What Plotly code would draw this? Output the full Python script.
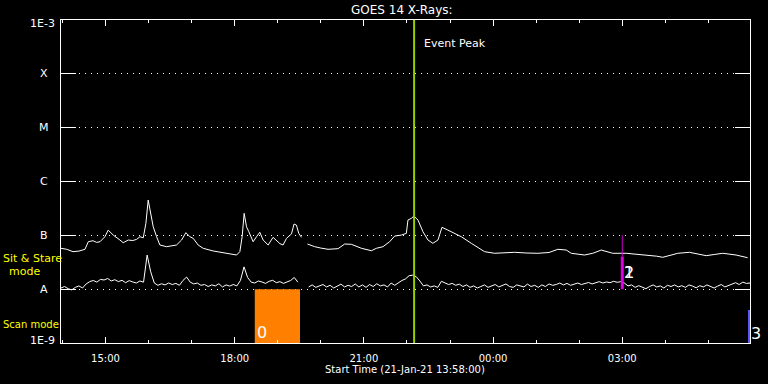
import numpy as np
import pandas as pd
import plotly.graph_objects as go

START = pd.Timestamp("2021-01-21 13:58:00")
END = START + pd.Timedelta(hours=16)

# ---- data ----
# long channel (1-8 A): minutes since start, flux in units of 1e-7 W/m^2
long_min = [0, 8, 16.7, 25, 33.4, 38, 44.5, 49.7, 54.3, 61.2, 65.8, 72.8, 82.1, 86.7, 93.7,
            100, 105.4, 110, 114.6, 118.3, 121.5, 123.9, 128.5, 133.2, 137.8, 147.1, 155, 161,
            168, 174, 179.6, 184.2, 191.1, 198.1, 212, 222, 230.7, 244.6, 249.2, 252.4, 255.2,
            258.5, 261.7, 267.7, 272.4, 277, 281.6, 288.6, 295.5, 300.2, 305, 309.4, 314.2,
            321.1, 324.7, 328, 331.3, 335, 339, 343.4, 353.6, 362, 372.1, 386, 395.3, 404.6,
            418.6, 432.5, 439.4, 448.6, 457.9, 464.9, 474.2, 481.2, 483.4, 488.2, 491.8, 497.4,
            504.3, 511.3, 518.2, 525.2, 530.8, 539.1, 557.8, 571.7, 590.2, 604.1, 618, 632,
            648, 664.4, 680, 692.3, 704, 710.9, 729.4, 741, 752.7, 768.8, 787.5, 800, 815.3,
            830, 838.5, 859.4, 875.6, 888, 898.9, 910, 922, 940.6, 956.7]
long_e7 = [0.574, 0.55, 0.497, 0.51, 0.55, 0.761, 0.794, 0.74, 0.761, 0.942, 1.25, 1.01, 0.818,
           0.729, 0.818, 0.80, 0.843, 0.942, 0.90, 1.67, 4.52, 2.94, 1.44, 0.942, 0.661, 0.615,
           0.63, 0.661, 0.818, 1.12, 0.942, 0.88, 0.661, 0.574, 0.512, 0.49, 0.464, 0.431,
           0.497, 0.942, 2.56, 1.44, 1.17, 0.761, 0.942, 1.14, 0.818, 0.661, 0.918, 0.784, 0.70,
           0.661, 0.88, 1.06, 1.62, 1.55, 1.09, 0.918, None, 0.69, 0.615, 0.58, 0.55, 0.565,
           0.69, 0.681, 0.574, 0.518, 0.574, 0.615, 0.761, 0.97, 1.01, 1.09, 1.92, 2.07, 2.28,
           1.92, 1.17, 0.818, 0.711, 0.818, 1.41, 1.25, 0.942, 0.711, 0.497, 0.464, 0.47, 0.484,
           0.47, 0.464, 0.48, 0.55, 0.533, 0.464, 0.431, 0.464, 0.533, 0.464, 0.464, 0.45, 0.431,
           0.41, 0.391, 0.464, 0.484, 0.45, 0.419, 0.44, 0.464, 0.431, 0.384]

# short channel (0.5-4 A): 5-minute samples since start, flux in units of 1e-8 W/m^2
short_min = list(range(0, 961, 5))
short_e8 = [1.05, 1.12, 1.02, 0.97, 1.08, 1.15, 1.05, 1.25, 1.38, 1.45,
            1.35, 1.52, 1.48, 1.58, 1.42, 1.5, 1.38, 1.46, 1.32, 1.44,
            1.36, 1.3, 1.42, 1.35, 4.3, 2.1, 1.3, 1.18, 1.26, 1.2,
            1.3, 1.22, 1.28, 1.18, 1.45, 1.68, 1.35, 1.25, 1.3, 1.18,
            1.22, 1.12, 1.2, 1.15, 1.26, 1.1, 1.2, 1.14, 1.22, 1.15,
            1.45, 2.6, 1.65, 1.35, 1.3, 1.42, 1.36, 1.28, 1.4, 1.46,
            1.32, 1.38, 1.28, 1.36, 1.45, 1.65, 1.35, None, None, 1.1,
            1.2, 1.08, 1.16, 1.22, 1.1, 1.18, 1.05, 1.15, 1.24, 1.1,
            1.18, 1.12, 1.25, 1.1, 1.2, 1.08, 1.22, 1.12, 1.26, 1.15,
            1.2, 1.1, 1.3, 1.18, 1.32, 1.45, 1.55, 1.78, 1.82, 1.7,
            1.42, 1.15, 1.2, 1.1, 1.15, 1.08, 1.4, 1.3, 1.22, 1.28,
            1.18, 1.24, 1.12, 1.2, 1.08, 1.15, 1.05, 1.12, 1.2, 1.08,
            1.14, 1.22, 1.1, 1.18, 1.25, 1.12, 1.08, 1.2, 1.15, 1.1,
            1.24, 1.12, 1.18, 1.08, 1.2, 1.12, 1.25, 1.18, 1.22, 1.3,
            1.2, 1.28, 1.18, 1.24, 1.3, 1.22, 1.28, 1.33, 1.25, 1.32,
            1.38, 1.3, 1.36, 1.32, 1.4, 1.34, 1.38, 1.3, 1.15, 1.2,
            1.08, 1.16, 1.1, 1.02, 1.12, 1.2, 1.1, 1.15, 1.05, 1.18,
            1.12, 1.2, 1.1, 1.16, 1.08, 1.2, 1.14, 1.06, 1.16, 1.1,
            1.2, 1.12, 1.05, 1.14, 1.22, 1.1, 1.18, 1.25, 1.32, 1.22,
            1.35, 1.28, 1.3]

class_levels = [1e-9, 1e-8, 1e-7, 1e-6, 1e-5, 1e-4, 1e-3]
class_labels = ["1E-9", "A", "B", "C", "M", "X", "1E-3"]

event_peak = "2021-01-21 22:10:00"
scan_start, scan_end = "2021-01-21 18:28:00", "2021-01-21 19:31:00"
mark12_time = "2021-01-22 03:00:00"
mark12_thin = [1e-7, 4.0e-8]
mark12_thick = [4.0e-8, 1e-8]
mark3_time = "2021-01-22 05:57:00"
mark3_top = 4.1e-9

# ---- build ----
def to_time(mins):
    return [START + pd.Timedelta(minutes=m) for m in mins]

long_flux = [v * 1e-7 if v is not None else None for v in long_e7]
short_flux = [v * 1e-8 if v is not None else None for v in short_e8]

fig = go.Figure()
fig.add_trace(go.Scatter(x=[scan_start, scan_end, scan_end, scan_start, scan_start],
                         y=[1e-9, 1e-9, 1e-8, 1e-8, 1e-9], fill="toself",
                         fillcolor="#ff8000", line=dict(width=0), mode="lines",
                         hoverinfo="skip"))
fig.add_trace(go.Scatter(x=to_time(long_min), y=long_flux, mode="lines",
                         line=dict(color="white", width=1), connectgaps=False))
fig.add_trace(go.Scatter(x=to_time(short_min), y=short_flux, mode="lines",
                         line=dict(color="white", width=1), connectgaps=False))
fig.add_trace(go.Scatter(x=[event_peak, event_peak], y=[1e-9, 1e-3], mode="lines",
                         line=dict(color="#9acd00", width=2)))
fig.add_trace(go.Scatter(x=[mark12_time] * 2, y=mark12_thin, mode="lines",
                         line=dict(color="#d000d0", width=1)))
fig.add_trace(go.Scatter(x=[mark12_time] * 2, y=mark12_thick, mode="lines",
                         line=dict(color="#e000e0", width=3)))
fig.add_trace(go.Scatter(x=[mark3_time] * 2, y=[1e-9, mark3_top], mode="lines",
                         line=dict(color="#5a5aff", width=2.5)))

W, H = 768, 384
L, R, T, B = 61, 18, 20, 41
pw, ph = W - L - R, H - T - B

def px(x):
    return (x - L) / pw

def py(y):
    return (H - B - y) / ph

font = "DejaVu Sans"

def text(x, y, s, color="white", size=11, xanchor="center", xref="paper", yref="paper",
         yshift=0, xshift=0):
    return dict(x=x, y=y, xref=xref, yref=yref, text=s, xanchor=xanchor, yanchor="middle",
                showarrow=False, xshift=xshift, yshift=yshift,
                font=dict(color=color, size=size, family=font))

ann = []
for lev, lab in zip(class_levels, class_labels):
    if lab.startswith("1E"):
        ann.append(text(px(57), np.log10(lev), lab, xanchor="right", yref="y",
                        yshift=(-3 if lev == 1e-3 else 3)))
    else:
        ann.append(text(px(44), np.log10(lev), lab, yref="y"))
ann += [
    text(px(402), py(10), "GOES 14 X-Rays:", size=12),
    text(px(405), py(369), "Start Time (21-Jan-21 13:58:00)", size=10),
    text(event_peak, py(43), "Event Peak", xanchor="left", xref="x", xshift=8),
    text(scan_start, py(332), "0", xanchor="left", xref="x", size=16),
    text(mark12_time, py(272), "1", xanchor="left", xref="x", size=16),
    text(mark12_time, py(272), "2", xanchor="left", xref="x", size=16),
    text(px(755.5), py(333), "3", size=16),
    text(px(1), py(258), "Sit & Stare", color="#ffff00", xanchor="left"),
    text(px(24), py(271), "mode", color="#ffff00"),
    text(px(1), py(324), "Scan mode", color="#ffff00", size=10, xanchor="left"),
]

fig.update_layout(
    width=W, height=H, autosize=False,
    margin=dict(l=L, r=R, t=T, b=B, pad=0),
    paper_bgcolor="black", plot_bgcolor="black",
    showlegend=False, annotations=ann,
    font=dict(family=font, color="white", size=10),
)
fig.update_xaxes(
    type="date", range=[START, END], showgrid=False, zeroline=False,
    showline=True, linecolor="white", linewidth=1, mirror="ticks",
    ticks="inside", ticklen=6, tickcolor="white", tickwidth=1,
    tick0="2021-01-21 15:00:00", dtick=3 * 3600 * 1000, tickformat="%H:%M",
    ticklabelstandoff=6,
    tickfont=dict(color="white", size=10, family=font),
    minor=dict(ticks="inside", ticklen=3, tickcolor="white", dtick=3600 * 1000,
               tick0="2021-01-21 15:00:00", showgrid=False),
)
fig.update_yaxes(
    type="log", range=[-9, -3], showline=True, linecolor="white", linewidth=1,
    mirror="ticks", ticks="inside", ticklen=15, tickcolor="white", tickwidth=1,
    tickvals=class_levels, showticklabels=False, zeroline=False,
    showgrid=True, gridcolor="white", gridwidth=1, griddash="1px,5px",
)

fig.write_html("out.html")
